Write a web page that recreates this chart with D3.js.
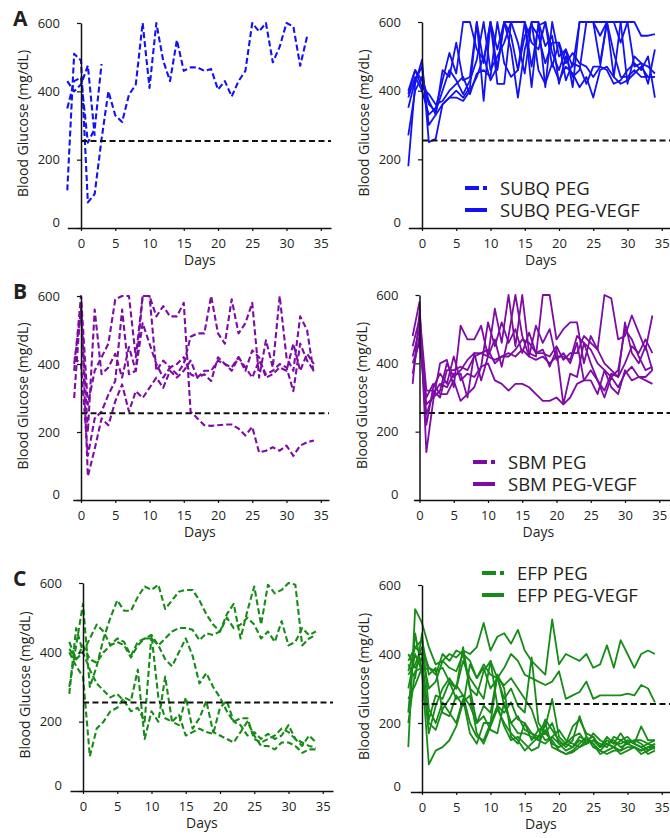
<!DOCTYPE html>
<html>
<head>
<meta charset="utf-8">
<script src="https://cdn.jsdelivr.net/npm/d3@7"></script>
<style>
  body { margin: 0; background: #fff; }
  text { font-family: "Open Sans", sans-serif; fill: #231f20; }
</style>
</head>
<body>
<div id="chart"></div>
<script>

// days of measurement (panels A and C start at day -2, panel B at day -1)
var days  = [-2,-1,0,1,2,3,4,5,6,7,8,9,10,11,12,13,14,15,16,17,18,19,20,21,22,23,24,25,26,27,28,29,30,31,32,33,34];
var daysB = [-1,0,1,2,3,4,5,6,7,8,9,10,11,12,13,14,15,16,17,18,19,20,21,22,23,24,25,26,27,28,29,30,31,32,33,34];

var yTicks = [0, 200, 400, 600];
var xTicks = [0, 5, 10, 15, 20, 25, 30, 35];
var threshold = 255;

// A: SUBQ
var subqPeg1 = [110,510,490,75,100,260,400,330,310,390,420,600,410,600,490,430,550,460,470,470,460,465,405,430,385,430,460,600,575,600,485,530,600,590,475,560];
var subqPeg2 = [350,430,440,250,290,480];
var subqPeg3 = [430,400,420,475,270];

var subqVegf1 = [350,430,470,300,330,460,440,540,430,440,600,480,600,460,600,560,460,600,540,520,600,510,460,520,470,600,600,600,560,600,600,540,600,600,560,560,565];
var subqVegf2 = [180,420,490,250,260,360,380,400,380,410,600,370,600,420,420,600,600,600,410,600,410,600,500,520,410,600,600,600,480,600,600,600,420,500,480,420,520];
var subqVegf3 = [270,400,440,370,330,360,380,380,370,400,440,500,430,470,600,520,380,520,600,460,420,480,430,470,450,410,440,380,460,470,440,420,430,450,470,440,440];
var subqVegf4 = [390,460,410,390,360,370,400,420,440,390,450,460,440,600,480,440,460,560,590,560,480,540,540,430,480,470,420,470,470,460,420,430,460,480,460,500,380];
var subqVegf5 = [380,440,400,330,350,430,510,450,600,600,520,490,600,520,600,600,540,450,600,600,530,560,420,500,440,460,600,600,600,600,440,600,600,470,480,470,450];
var subqVegf6 = [400,460,430,360,340,400,460,430,390,430,490,600,460,500,540,600,600,600,470,590,600,470,540,480,510,480,470,440,470,600,510,440,440,460,440,440,440];

// B: SBM
var sbmPeg1 = [380,600,280,380,420,460,590,600,600,420,600,600,540,570,540,540,580,260,240,220,218,220,222,222,210,190,215,140,145,155,145,160,130,160,170,175];
var sbmPeg2 = [300,580,70,150,240,220,290,340,260,320,300,330,360,330,380,360,380,410,360,370,350,420,400,380,420,390,360,410,370,380,400,390,320,460,410,380];
var sbmPeg3 = [400,560,200,560,370,390,430,360,450,380,520,460,400,360,390,370,400,480,490,490,600,490,460,590,490,520,580,360,470,390,600,420,380,540,500,370];
var sbmPeg4 = [420,400,130,240,260,310,350,560,370,380,600,600,380,410,390,400,420,370,360,380,380,410,400,390,420,380,440,420,360,370,390,380,460,380,430,400];

var sbmVegf1 = [480,580,140,290,400,410,330,510,470,470,510,420,560,460,600,450,600,430,420,600,600,470,500,520,520,400,480,440,600,590,470,480,540,490,440,540];
var sbmVegf2 = [340,550,320,320,300,380,380,390,380,420,430,440,400,420,420,440,470,460,430,430,420,450,410,430,430,480,460,440,400,380,360,400,450,430,470,430];
var sbmVegf3 = [420,500,220,330,370,340,420,350,370,360,390,400,350,340,320,340,340,330,310,290,290,300,280,300,340,350,350,310,380,330,310,380,350,360,350,340];
var sbmVegf4 = [400,460,300,340,310,310,350,290,310,330,390,520,450,520,460,500,430,490,430,440,390,440,280,370,360,460,400,350,300,360,330,370,390,360,360,380];
var sbmVegf5 = [450,530,250,310,340,330,370,370,300,430,350,420,470,390,480,600,480,420,510,460,500,410,430,400,460,350,380,350,320,370,360,520,430,400,450,380];
var sbmVegf6 = [370,480,280,300,320,400,360,380,410,430,430,420,410,420,430,420,440,420,410,420,400,420,420,410,480,460,440,400,380,360,380,500,470,420,380,390];

// C: EFP
var efpPeg1 = [300,420,540,300,360,440,500,550,520,520,560,590,580,595,525,550,575,580,580,550,510,480,460,510,540,440,520,590,480,595,570,580,600,595,420,440,450];
var efpPeg2 = [430,380,400,440,480,460,420,440,430,390,430,440,450,420,440,460,470,470,465,435,455,450,460,500,470,480,500,480,440,460,430,490,420,430,470,450,460];
var efpPeg3 = [410,380,420,380,370,400,420,430,420,385,420,440,440,420,380,360,400,440,390,310,340,300,270,230,200,210,210,150,140,150,160,180,170,150,140,130,125];
var efpPeg4 = [400,360,330,100,180,200,230,240,270,260,350,150,230,200,330,200,190,270,180,210,260,170,160,150,140,170,200,160,130,130,120,140,140,130,110,120,120];
var efpPeg5 = [280,470,400,350,310,290,270,280,260,230,240,200,450,270,210,200,220,160,170,180,170,165,240,260,200,190,160,170,150,165,150,160,190,150,130,160,140];

var efpVegf1  = [130,530,490,420,370,380,400,390,410,400,420,490,410,450,460,430,470,410,380,360,340,500,370,400,390,380,400,360,370,425,360,440,400,360,400,410,400];
var efpVegf2  = [380,420,400,300,320,380,360,350,400,380,330,360,300,330,360,400,380,340,330,320,310,320,350,270,280,290,320,270,280,280,280,280,285,280,310,300,260];
var efpVegf3  = [230,460,350,80,120,130,150,190,260,280,170,140,190,240,200,170,150,120,140,160,170,150,120,110,120,140,160,130,120,110,120,120,130,130,110,120,130];
var efpVegf4  = [400,360,390,210,280,270,320,270,280,200,160,150,200,340,300,160,140,200,150,180,190,270,160,140,190,210,170,160,130,160,140,170,140,150,140,120,140];
var efpVegf5  = [350,420,440,340,360,230,220,280,250,370,330,370,340,330,270,300,250,230,390,200,170,200,140,120,130,150,140,170,150,140,130,150,160,140,130,110,120];
var efpVegf6  = [200,350,360,170,250,300,330,300,420,300,200,250,230,340,250,200,220,180,170,160,210,180,150,130,150,220,160,140,120,140,130,120,150,140,190,150,150];
var efpVegf7  = [370,330,460,240,200,260,230,200,270,170,140,200,200,250,190,150,160,140,120,130,200,130,120,110,115,130,150,140,110,120,130,110,120,130,120,130,125];
var efpVegf8  = [300,400,350,360,340,400,380,410,400,300,280,350,380,330,310,330,300,270,240,180,150,160,140,140,130,160,150,160,130,150,140,140,150,140,130,140,130];
var efpVegf9  = [270,310,360,200,180,240,270,310,280,250,200,220,180,170,260,200,170,170,160,150,180,140,130,140,160,170,140,150,140,130,160,150,140,150,150,140,150];
var efpVegf10 = [340,370,420,360,350,360,320,300,380,330,300,270,380,250,230,260,210,200,170,150,140,160,180,150,140,130,140,150,130,140,150,130,140,130,120,130,140];

var blue = "#1212f2", purple = "#7d0ca5", green = "#178b17";
var pxPerDay = 6.85;

var W = 670, H = 838;
var svg = d3.select("#chart").append("svg")
    .attr("width", W)
    .attr("height", H)
    .style("background-color", "white");

var panels = [
  {left: 81,    top: 23,  bottom: 228, x0: -2,   x1: 36.5, days: days,  color: blue,   dashed: true,
   series: [subqPeg1, subqPeg2, subqPeg3], letter: "A"},
  {left: 422,   top: 22,  bottom: 228, x0: -2,   x1: 36.8, days: days,  color: blue,   dashed: false,
   series: [subqVegf1, subqVegf2, subqVegf3, subqVegf4, subqVegf5, subqVegf6],
   legend: {x: 465, y: 188, names: ["SUBQ PEG", "SUBQ PEG-VEGF"]}},
  {left: 81,    top: 296, bottom: 500, x0: -1.2, x1: 36.2, days: daysB, color: purple, dashed: true,
   series: [sbmPeg1, sbmPeg2, sbmPeg3, sbmPeg4], letter: "B"},
  {left: 419.5, top: 295, bottom: 500, x0: -0.9, x1: 36.8, days: daysB, color: purple, dashed: false,
   series: [sbmVegf1, sbmVegf2, sbmVegf3, sbmVegf4, sbmVegf5, sbmVegf6],
   legend: {x: 473, y: 462, names: ["SBM PEG", "SBM PEG-VEGF"]}},
  {left: 83,    top: 583, bottom: 791, x0: -1.9, x1: 36.5, days: days,  color: green,  dashed: true,
   series: [efpPeg1, efpPeg2, efpPeg3, efpPeg4, efpPeg5], letter: "C"},
  {left: 422,   top: 585, bottom: 792, x0: -1.7, x1: 36.8, days: days,  color: green,  dashed: false,
   series: [efpVegf1, efpVegf2, efpVegf3, efpVegf4, efpVegf5, efpVegf6, efpVegf7, efpVegf8, efpVegf9, efpVegf10],
   legend: {x: 482, y: 573, names: ["EFP PEG", "EFP PEG-VEGF"]}}
];

panels.forEach(function(p) {
  var g = svg.append("g");

  var x = d3.scaleLinear()
      .domain([p.x0, p.x1])
      .range([p.left + p.x0 * pxPerDay, p.left + p.x1 * pxPerDay]);
  var y = d3.scaleLinear().domain([0, 600]).range([p.bottom, p.top]);

  var line = d3.line()
      .x(function(d) { return x(d[0]); })
      .y(function(d) { return y(d[1]); });

  // data lines
  p.series.forEach(function(vals) {
    var pts = vals.map(function(v, i) { return [p.days[i], v]; });
    g.append("path")
      .datum(pts)
      .attr("d", line)
      .attr("fill", "none")
      .attr("stroke", p.color)
      .attr("stroke-width", p.dashed ? 2.1 : 1.8)
      .attr("stroke-linejoin", "round")
      .attr("stroke-dasharray", p.dashed ? "6,3" : null);
  });

  // threshold line
  g.append("line")
    .attr("x1", x(0)).attr("x2", x(p.x1))
    .attr("y1", y(threshold)).attr("y2", y(threshold))
    .attr("stroke", "#111")
    .attr("stroke-width", 2)
    .attr("stroke-dasharray", "6,3.5");

  // x axis
  var xAxis = g.append("g")
    .attr("transform", "translate(0," + p.bottom + ")")
    .call(d3.axisBottom(x).tickValues(xTicks).tickSize(3).tickSizeOuter(0));
  xAxis.select(".domain").attr("stroke", "#111").attr("stroke-width", 1.5);
  xAxis.selectAll(".tick line").attr("stroke", "#111").attr("stroke-width", 1.2);
  xAxis.selectAll(".tick text")
    .attr("y", 11)
    .style("font-size", "13px")
    .style("font-family", "'Open Sans', sans-serif")
    .attr("fill", "#231f20");

  // y axis
  var yAxis = g.append("g")
    .attr("transform", "translate(" + x(0) + ",0)")
    .call(d3.axisLeft(y).tickValues(yTicks).tickSize(4).tickSizeOuter(0));
  yAxis.select(".domain").attr("stroke", "#111").attr("stroke-width", 1.5);
  yAxis.selectAll(".tick line").attr("stroke", "#111").attr("stroke-width", 1.2);
  yAxis.selectAll(".tick text")
    .attr("x", -21)
    .attr("dy", function(d) { return d === 0 ? "-0.1em" : "0.32em"; })
    .style("font-size", "13px")
    .style("font-family", "'Open Sans', sans-serif")
    .attr("fill", "#231f20");

  // axis titles
  g.append("text")
    .attr("x", x(17.5) - 1)
    .attr("y", p.bottom + 37)
    .attr("text-anchor", "middle")
    .style("font-size", "14px")
    .text("Days");

  g.append("text")
    .attr("transform", "translate(" + (p.left - 53) + "," + ((p.top + p.bottom) / 2 - 2) + ") rotate(-90)")
    .attr("text-anchor", "middle")
    .style("font-size", "14px")
    .text("Blood Glucose (mg/dL)");

  if (p.letter) {
    g.append("text")
      .attr("x", 13)
      .attr("y", p.top + 3)
      .style("font-size", "21px")
      .style("font-weight", "bold")
      .text(p.letter);
  }

  if (p.legend) {
    var L = p.legend;
    g.append("line")
      .attr("x1", L.x).attr("x2", L.x + 22)
      .attr("y1", L.y).attr("y2", L.y)
      .attr("stroke", p.color).attr("stroke-width", 4)
      .attr("stroke-dasharray", "14,4,4,30");
    g.append("line")
      .attr("x1", L.x).attr("x2", L.x + 22)
      .attr("y1", L.y + 22).attr("y2", L.y + 22)
      .attr("stroke", p.color).attr("stroke-width", 4);
    g.append("text")
      .attr("x", L.x + 35).attr("y", L.y + 7)
      .style("font-size", "18.5px")
      .text(L.names[0]);
    g.append("text")
      .attr("x", L.x + 35).attr("y", L.y + 29)
      .style("font-size", "18.5px")
      .text(L.names[1]);
  }
});

</script>
</body>
</html>
